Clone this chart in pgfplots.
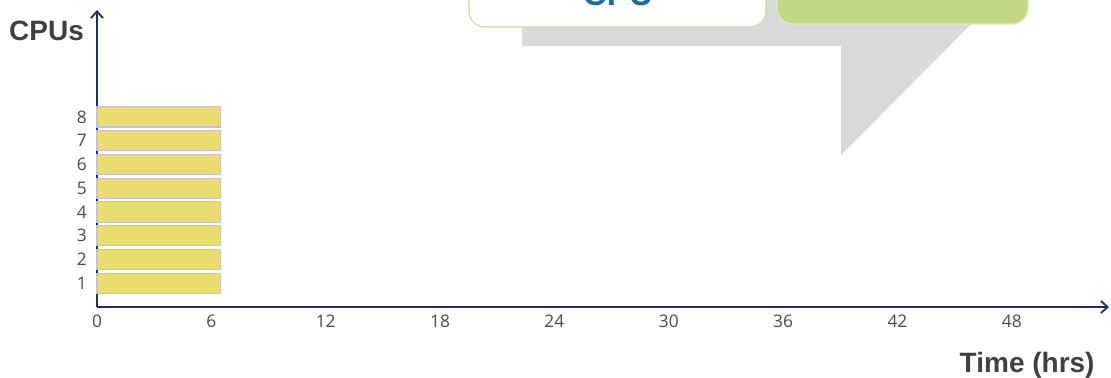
\documentclass[border=0pt]{standalone}
\usepackage{pgfplots}
\pgfplotsset{compat=1.18}
\usetikzlibrary{arrows.meta}
\usepackage{fontspec}
\setmainfont{Liberation Sans}
\newfontfamily\tickfont{Open Sans}
\definecolor{axisblue}{HTML}{1F2F5C}
\definecolor{barfill}{HTML}{EADC6E}
\definecolor{bardraw}{HTML}{C4C4C4}
\definecolor{ticktext}{HTML}{4A4A4A}
\definecolor{labeltext}{HTML}{404040}
\definecolor{calloutgray}{HTML}{D9D9D9}
\definecolor{calloutgreen}{HTML}{C3D882}
\definecolor{greenedge}{HTML}{DDE8C6}
\definecolor{whiteedge}{HTML}{CCD8A8}
\definecolor{cputeal}{HTML}{1B6EA3}
\begin{document}
\begin{tikzpicture}
\begin{scope}[x=0.75pt,y=-0.75pt]
  \useasboundingbox (0,0) rectangle (1111,377);
  \begin{scope}
    \clip (0,0) rectangle (1111,377);
    \fill[calloutgray] (522,-10) -- (522,46) -- (841,46) -- (841,155) -- (985,10) -- (985,-10) -- cycle;
    \draw[fill=white, draw=whiteedge, line width=0.8pt, rounded corners=12pt] (469,-40) rectangle (766,27);
    \draw[fill=calloutgreen, draw=greenedge, line width=1pt, rounded corners=12pt] (777,-40) rectangle (1028,24);
    \node[anchor=base, inner sep=0, text=cputeal, font=\fontsize{25}{28}\selectfont\bfseries] at (618,6) {CPU};
  \end{scope}
\end{scope}
\begin{axis}[
  at={(72.75pt,-230.25pt)}, anchor=south west,
  scale only axis,
  width=759pt, height=222.75pt,
  xmin=0, xmax=53.1, ymin=0, ymax=12.5,
  axis lines=left,
  axis line style={draw=axisblue, line width=1.6pt, -{Straight Barb[length=5pt,width=9pt,line width=1.4pt]}},
  xtick={0,6,12,18,24,30,36,42,48},
  ytick={1,2,3,4,5,6,7,8},
  major tick length=0pt,
  /pgf/number format/assume math mode=true,
  ticklabel style={font=\tickfont\fontsize{13}{15}\selectfont, text=ticktext, inner sep=0pt},
  xticklabel style={anchor=base, yshift=-15.5pt},
  yticklabel style={anchor=east, xshift=-7.5pt},
  xlabel={Time (hrs)}, ylabel={CPUs},
  every axis x label/.style={at={(axis description cs:0.986,-0.219)}, anchor=base east, inner sep=0pt, font=\fontsize{21}{24}\selectfont\bfseries, text=labeltext},
  every axis y label/.style={at={(axis description cs:-0.087,0.896)}, anchor=base west, inner sep=0pt, font=\fontsize{21}{24}\selectfont\bfseries, text=labeltext},
  clip=false,
]
\addplot[xbar, bar width=0.85, bar shift=0pt, fill=barfill, draw=bardraw, line width=0.8pt] coordinates {
  (6.5,1) (6.5,2) (6.5,3) (6.5,4) (6.5,5) (6.5,6) (6.5,7) (6.5,8)
};
\end{axis}
\end{tikzpicture}
\end{document}
